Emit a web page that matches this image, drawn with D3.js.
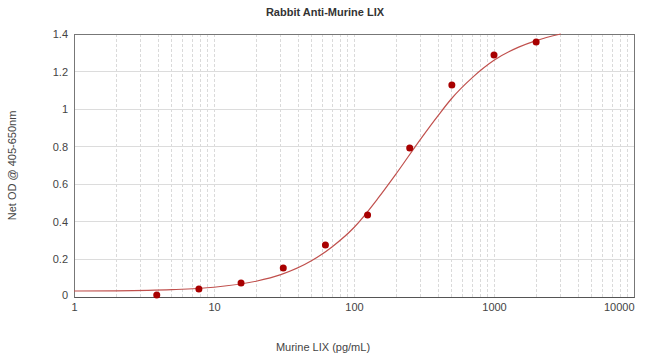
<!DOCTYPE html>
<html>
<head>
<meta charset="utf-8">
<script src="https://cdn.jsdelivr.net/npm/d3@7"></script>
<style>
  body { margin: 0; background: #fff; }
  text { font-family: "Liberation Sans", Arial, sans-serif; }
</style>
</head>
<body>
<svg id="chart" width="650" height="358"></svg>
<script>
/*
    DATA
*/
var concLevels = [3.9, 7.8, 15.6, 31.25, 62.5, 125, 250, 500, 1000, 2000];
var odValues   = [0.01, 0.043, 0.075, 0.155, 0.277, 0.437, 0.793, 1.128, 1.288, 1.357];

// fitted curve
var curveConc = [1, 2, 5, 10, 20, 30, 50, 70, 100, 150, 200, 300, 400, 500, 700, 1000, 1500, 2000, 3000];
var curveOD   = [0.032, 0.033, 0.039, 0.052, 0.084, 0.119, 0.194, 0.268, 0.37, 0.53, 0.656, 0.842, 0.967, 1.058, 1.168, 1.26, 1.33, 1.365, 1.40];

var xTicks = [1, 10, 100, 1000, 10000];
var yTicks = [0, 0.2, 0.4, 0.6, 0.8, 1, 1.2, 1.4];

/*
    LAYOUT
*/
var margin = {top: 34, right: 16, bottom: 61, left: 74};
var width = 650, height = 358;
var w = width - margin.left - margin.right;
var h = height - margin.top - margin.bottom;

var svg = d3.select("#chart");
var chart = svg.append("g")
    .attr("transform", "translate(" + margin.left + "," + margin.top + ")");

var x = d3.scaleLog().domain([1, 10000]).range([0, w]);
var y = d3.scaleLinear().domain([0, 1.4]).range([h, 0]);

// vertical grid (log minor + major)
var minor = [];
for (var dec = 1; dec < 10000; dec *= 10) {
  for (var k = 2; k <= 9; k++) minor.push(dec * k);
}
chart.append("g").selectAll("line")
    .data(minor.concat(xTicks.slice(1, -1)))
  .enter().append("line")
    .attr("x1", function(d) { return x(d); })
    .attr("x2", function(d) { return x(d); })
    .attr("y1", 0).attr("y2", h)
    .style("stroke", "#dadada")
    .style("stroke-dasharray", "3,2")
    .style("stroke-width", 1)
    .attr("shape-rendering", "crispEdges");

// horizontal grid
chart.append("g").selectAll("line")
    .data(yTicks.slice(1, -1))
  .enter().append("line")
    .attr("x1", 0).attr("x2", w)
    .attr("y1", function(d) { return y(d); })
    .attr("y2", function(d) { return y(d); })
    .style("stroke", "#dcdcdc")
    .attr("shape-rendering", "crispEdges");

// frame
chart.append("rect")
    .attr("x", 0).attr("y", 0).attr("width", w).attr("height", h)
    .style("fill", "none")
    .style("stroke", "#777")
    .attr("shape-rendering", "crispEdges");

// axes
var xAxis = chart.append("g")
    .attr("transform", "translate(0," + h + ")")
    .call(d3.axisBottom(x).tickValues(xTicks).tickFormat(d3.format("d")).tickSize(0).tickPadding(6));
xAxis.select(".domain").style("stroke", "#555");
xAxis.selectAll("text")
    .style("font-size", "11px").style("fill", "#444")
    .attr("text-anchor", function(d) { return d === 10000 ? "end" : "middle"; });

var yAxis = chart.append("g")
    .call(d3.axisLeft(y).tickValues(yTicks).tickFormat(d3.format("~g")).tickSize(0).tickPadding(6));
yAxis.select(".domain").remove();
yAxis.selectAll("text")
    .style("font-size", "11px").style("fill", "#444");
yAxis.selectAll(".tick").filter(function(d) { return d === 0; })
    .select("text").attr("dy", "0.1em");

// fitted curve
var line = d3.line()
    .x(function(d) { return x(d[0]); })
    .y(function(d) { return y(d[1]); })
    .curve(d3.curveMonotoneX);

chart.append("path")
    .datum(d3.zip(curveConc, curveOD))
    .attr("d", line)
    .style("fill", "none")
    .style("stroke", "#c0504d")
    .style("stroke-width", 1.2);

// data points
chart.selectAll("circle.pt")
    .data(d3.zip(concLevels, odValues))
  .enter().append("circle")
    .attr("class", "pt")
    .attr("cx", function(d) { return x(d[0]); })
    .attr("cy", function(d) { return y(d[1]); })
    .attr("r", 3.5)
    .style("fill", "#a80000");

// titles
svg.append("text")
    .attr("x", 325).attr("y", 16)
    .attr("text-anchor", "middle")
    .style("font-size", "11px").style("font-weight", "bold").style("fill", "#333")
    .text("Rabbit Anti-Murine LIX");

svg.append("text")
    .attr("x", 323).attr("y", 351)
    .attr("text-anchor", "middle")
    .style("font-size", "11px").style("fill", "#444")
    .text("Murine LIX (pg/mL)");

svg.append("text")
    .attr("transform", "translate(16," + (margin.top + h / 2) + ") rotate(-90)")
    .attr("text-anchor", "middle")
    .style("font-size", "11px").style("fill", "#444")
    .text("Net OD @ 405-650nm");
</script>
</body>
</html>
